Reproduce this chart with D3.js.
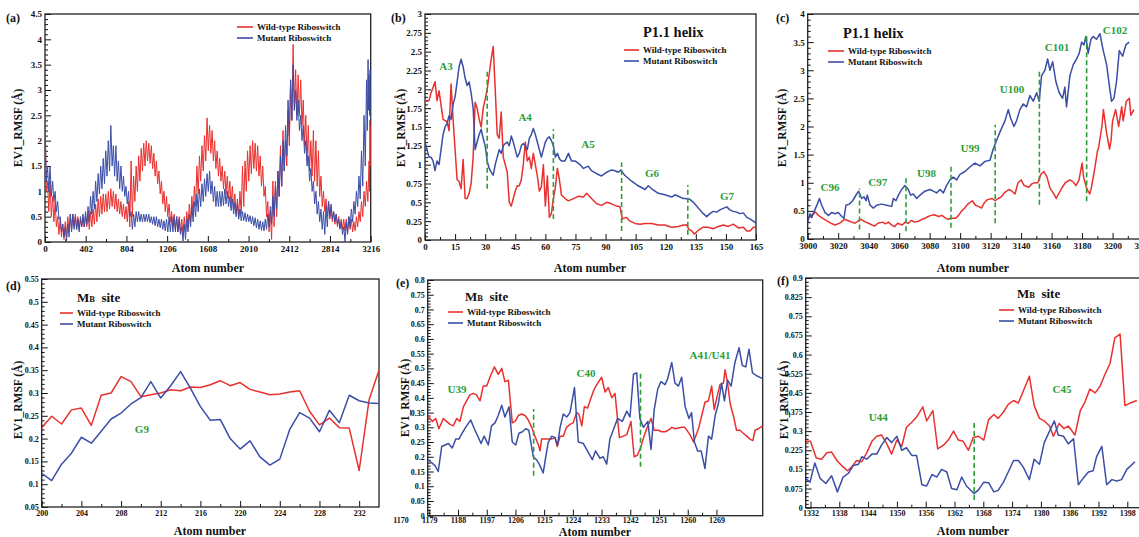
<!DOCTYPE html>
<html><head><meta charset="utf-8">
<script src="https://cdn.jsdelivr.net/npm/d3@7"></script>
<style>
body{margin:0;background:#fff}
svg text{font-family:"Liberation Serif","Times New Roman",serif;font-weight:bold}
</style>
</head><body>
<svg id="chart" width="1139" height="537"></svg>
<script>
// ---------------- DATA ----------------
const seriesNames = ["Wild-type Riboswitch", "Mutant Riboswitch"];

// Panel (a): noisy whole-molecule traces, read as [atom, upper edge, lower edge] of the jittery band
const aXTicks = [0,402,804,1206,1608,2010,2412,2814,3216];
const aYTicks = [0,0.5,1,1.5,2,2.5,3,3.5,4,4.5];
const aWildBand = [[0,2.6,1.0],[25,1.2,0.6],[50,1.2,0.5],[75,0.9,0.4],[100,0.8,0.3],[125,0.5,0.15],[150,0.45,0.1],[175,0.35,0.05],[200,0.4,0.1],[225,0.5,0.2],[250,0.55,0.25],[275,0.55,0.3],[300,0.55,0.25],[325,0.5,0.25],[350,0.45,0.3],[375,0.5,0.3],[400,0.5,0.3],[425,0.55,0.25],[450,0.6,0.3],[475,0.65,0.35],[500,0.75,0.4],[525,0.85,0.5],[550,0.9,0.55],[575,0.95,0.6],[600,0.95,0.6],[625,1.0,0.65],[650,1.05,0.7],[675,1.0,0.65],[700,0.95,0.6],[725,0.85,0.55],[750,0.8,0.5],[775,0.75,0.45],[800,0.7,0.4],[825,0.8,0.3],[850,1.6,0.5],[875,1.3,0.8],[900,1.5,1.0],[925,1.7,1.2],[950,1.85,1.4],[975,1.95,1.5],[1000,2.0,1.6],[1025,1.95,1.55],[1050,1.9,1.45],[1075,1.75,1.3],[1100,1.6,1.15],[1125,1.4,0.95],[1150,1.2,0.75],[1175,1.0,0.6],[1200,0.9,0.5],[1225,0.75,0.4],[1250,0.6,0.3],[1275,0.55,0.25],[1300,0.5,0.2],[1325,0.5,0.2],[1350,0.45,0.15],[1375,0.5,0.2],[1400,0.6,0.3],[1425,0.75,0.4],[1450,0.9,0.55],[1475,1.1,0.7],[1500,1.5,0.95],[1525,1.7,1.2],[1550,1.9,1.4],[1575,2.1,1.6],[1600,2.45,1.8],[1625,2.3,1.75],[1650,2.2,1.6],[1675,2.0,1.45],[1700,1.8,1.3],[1725,1.65,1.2],[1750,1.5,1.05],[1775,1.4,0.95],[1800,1.3,0.85],[1825,1.2,0.75],[1850,1.1,0.65],[1875,0.95,0.55],[1900,0.85,0.5],[1925,1.0,0.55],[1950,1.5,0.7],[1975,1.6,1.0],[2000,1.8,1.2],[2025,1.9,1.35],[2050,2.0,1.45],[2075,1.95,1.4],[2100,1.9,1.3],[2125,1.7,1.1],[2150,1.5,0.9],[2175,1.1,0.5],[2200,0.8,0.2],[2225,0.6,0.05],[2250,1.2,0.3],[2275,1.2,0.5],[2300,1.4,0.9],[2325,1.9,1.1],[2350,2.2,1.4],[2375,2.0,1.5],[2400,2.6,1.9],[2425,3.2,2.4],[2450,3.9,2.6],[2475,3.4,2.5],[2500,3.3,2.5],[2525,3.2,2.3],[2550,2.8,1.9],[2575,2.5,1.6],[2600,2.3,1.4],[2625,2.0,1.3],[2650,2.2,1.2],[2675,2.0,1.1],[2700,1.8,0.9],[2725,1.3,0.7],[2750,1.0,0.6],[2775,0.85,0.5],[2800,0.8,0.45],[2825,0.7,0.4],[2850,0.6,0.35],[2875,0.55,0.3],[2900,0.5,0.28],[2925,0.45,0.25],[2950,0.45,0.22],[2975,0.45,0.2],[3000,0.5,0.25],[3025,0.45,0.2],[3050,0.4,0.22],[3075,0.5,0.3],[3100,0.6,0.4],[3125,0.8,0.5],[3150,1.0,0.7],[3175,1.2,0.8],[3200,1.6,1.0],[3208,2.4,1.5],[3216,2.3,1.5]];
const aMutantBand = [[0,2.3,1.2],[25,1.5,1.0],[50,1.5,0.9],[75,1.2,0.8],[100,1.0,0.6],[125,0.8,0.45],[150,0.5,0.2],[175,0.35,0.1],[200,0.3,0.02],[225,0.35,0.1],[250,0.55,0.2],[275,0.55,0.25],[300,0.5,0.25],[325,0.45,0.2],[350,0.5,0.3],[375,0.55,0.3],[400,0.6,0.35],[425,0.7,0.4],[450,0.9,0.55],[475,1.0,0.65],[500,1.2,0.8],[525,1.35,0.95],[550,1.5,1.05],[575,1.65,1.15],[600,1.8,1.3],[625,2.0,1.4],[650,2.3,1.5],[675,1.9,1.3],[700,1.9,1.2],[725,1.6,1.05],[750,1.5,1.0],[775,1.3,0.9],[800,1.1,0.75],[825,1.0,0.5],[850,0.6,0.25],[875,0.55,0.3],[900,0.6,0.4],[925,0.6,0.4],[950,0.55,0.4],[975,0.55,0.4],[1000,0.55,0.4],[1025,0.55,0.38],[1050,0.5,0.35],[1075,0.5,0.32],[1100,0.5,0.3],[1125,0.45,0.28],[1150,0.45,0.25],[1175,0.42,0.22],[1200,0.45,0.2],[1225,0.5,0.2],[1250,0.5,0.2],[1275,0.5,0.2],[1300,0.5,0.2],[1325,0.45,0.15],[1350,0.3,0.02],[1375,0.35,0.05],[1400,0.45,0.2],[1425,0.55,0.3],[1450,0.7,0.4],[1475,0.8,0.5],[1500,0.95,0.6],[1525,1.05,0.7],[1550,1.15,0.8],[1575,1.25,0.9],[1600,1.35,1.0],[1625,1.4,0.95],[1650,1.2,0.8],[1675,1.1,0.7],[1700,1.0,0.7],[1725,1.0,0.7],[1750,1.0,0.72],[1775,1.05,0.75],[1800,1.0,0.7],[1825,0.9,0.62],[1850,0.85,0.55],[1875,0.78,0.5],[1900,0.75,0.45],[1925,0.65,0.42],[1950,0.6,0.42],[1975,0.58,0.4],[2000,0.55,0.4],[2025,0.52,0.36],[2050,0.5,0.32],[2075,0.48,0.28],[2100,0.45,0.25],[2125,0.42,0.23],[2150,0.4,0.22],[2175,0.45,0.25],[2200,0.55,0.3],[2225,0.7,0.35],[2250,0.9,0.5],[2275,1.1,0.65],[2300,1.4,0.9],[2325,1.7,1.1],[2350,2.0,1.4],[2375,2.3,1.7],[2400,2.8,2.1],[2425,3.2,2.4],[2450,3.5,2.6],[2475,3.0,2.4],[2500,2.8,2.2],[2525,2.5,2.0],[2550,2.3,1.75],[2575,2.0,1.5],[2600,1.7,1.2],[2625,1.45,1.0],[2650,1.2,0.75],[2675,1.0,0.55],[2700,0.8,0.4],[2725,0.65,0.25],[2750,0.6,0.15],[2775,0.7,0.3],[2800,0.8,0.5],[2825,0.75,0.45],[2850,0.6,0.4],[2875,0.55,0.35],[2900,0.45,0.25],[2925,0.4,0.15],[2950,0.3,0.0],[2975,0.4,0.15],[3000,0.5,0.3],[3025,0.65,0.4],[3050,0.8,0.55],[3075,1.0,0.7],[3100,1.3,0.85],[3125,1.8,1.1],[3150,2.5,1.5],[3175,3.2,2.2],[3190,3.6,2.6],[3200,3.3,2.5],[3210,3.4,2.5],[3216,2.4,2.4]];

// Panel (b)
const bXTicks = [0,15,30,45,60,75,90,105,120,135,150,165];
const bYTicks = [0,0.25,0.5,0.75,1,1.25,1.5,1.75,2,2.25,2.5,2.75,3];
const bWild = [[0,1.85],[2,1.85],[3,1.95],[5,2.1],[6,1.85],[7,1.98],[9,1.6],[11,1.57],[12,1.45],[13,2.07],[14,1.6],[16,0.8],[17,0.78],[18,0.68],[19,1.07],[20,0.55],[21,0.55],[22,0.62],[23,0.75],[24,1.1],[25,1.83],[26,1.75],[27,1.6],[28,1.5],[29,1.75],[30,1.87],[31,2.0],[32,2.2],[33,2.4],[34,2.57],[35,2.0],[36,1.4],[37,1.35],[38,1.7],[39,1.1],[40,1.0],[41,0.9],[42,0.5],[43,0.45],[44,0.55],[45,0.65],[46,0.72],[47,0.72],[48,0.8],[49,1.0],[50,1.3],[51,1.05],[52,1.1],[53,0.95],[54,1.15],[55,1.0],[56,0.85],[57,0.65],[58,0.7],[59,1.0],[60,0.45],[61,0.85],[62,0.3],[63,0.35],[64,0.55],[65,0.7],[66,0.95],[67,0.8],[68,0.6],[69.8,0.55],[71.5,0.52],[74,0.55],[76.4,0.58],[79,0.57],[80.6,0.62],[83,0.55],[85.6,0.48],[88,0.46],[90.6,0.5],[93,0.48],[95.5,0.45],[97.2,0.44],[98.4,0.28],[100.5,0.3],[102.2,0.25],[104.7,0.22],[107.2,0.21],[109.7,0.22],[113,0.22],[116.3,0.2],[119.6,0.2],[123,0.17],[126.3,0.18],[128.8,0.2],[130.4,0.2],[131.6,0.14],[133,0.12],[134.3,0.08],[136.3,0.13],[138.7,0.17],[141.2,0.17],[143.7,0.15],[146.2,0.18],[148.7,0.2],[151.2,0.18],[153.7,0.21],[156.2,0.16],[158.7,0.17],[160.4,0.12],[162,0.12],[163.7,0.17],[165,0.17]];
const bMutant = [[0,1.3],[1,1.2],[2,1.1],[3,1.1],[4,1.05],[5,0.92],[6,1.05],[7,1.0],[8,1.2],[9,1.4],[10,1.5],[11,1.55],[12,1.65],[13,1.6],[14,1.8],[15,1.9],[16,2.1],[17,2.3],[18,2.4],[19,2.3],[20,2.15],[21,2.05],[22,2.1],[23,1.95],[24,1.75],[25,1.2],[26,1.3],[27,1.4],[28,1.47],[29,1.35],[30,1.25],[31,1.05],[32,0.95],[33,0.9],[34,0.86],[35,1.0],[36,1.1],[37,1.2],[38,1.15],[39,1.25],[40,1.28],[41,1.3],[42,1.25],[43,1.38],[44,1.3],[45,1.2],[46,1.1],[47,1.15],[48,1.25],[49,1.28],[50,1.25],[51,1.2],[52,1.35],[53,1.4],[54,1.48],[55,1.4],[56,1.3],[57,1.2],[58,1.1],[59,1.2],[60,1.3],[61,1.35],[62,1.37],[63,1.32],[64,1.25],[65,1.1],[66,1.15],[67,1.08],[68,1.05],[69.8,1.05],[71.5,1.15],[73,1.05],[74.8,1.05],[77.3,1.0],[79,0.95],[81.4,0.98],[83,0.92],[85.6,0.88],[88,0.85],[90.6,0.9],[93,0.93],[94.7,0.92],[96.4,0.9],[97.7,0.93],[98.9,0.88],[100,0.85],[103,0.78],[106.3,0.72],[109.7,0.67],[111.3,0.72],[113,0.68],[116.3,0.62],[119.6,0.6],[123,0.57],[124.6,0.6],[126.3,0.58],[128.8,0.55],[129.6,0.55],[132,0.54],[133.8,0.5],[135.4,0.45],[137,0.4],[138.7,0.35],[140.4,0.31],[142,0.35],[143.7,0.38],[145.4,0.37],[147,0.4],[148.7,0.42],[150.4,0.44],[152,0.4],[153.7,0.38],[155.4,0.37],[157,0.35],[158.7,0.36],[160.4,0.3],[162,0.28],[163.7,0.25],[165,0.22]];
const bLabels = [["A3",10.5,2.31],["A4",49.9,1.63],["A5",81.3,1.27],["G6",113.2,0.89],["G7",150.5,0.58]];
const bMarkers = [[31,0.68,2.25],[64,0.28,1.47],[98,0.12,1.03],[131,0.07,0.73]];

// Panel (c)
const cXTicks = [3000,3020,3040,3060,3080,3100,3120,3140,3160,3180,3200,3220];
const cYTicks = [0,0.5,1,1.5,2,2.5,3,3.5,4];
const cWild = [[3000,0.38],[3002,0.42],[3004,0.45],[3005,0.48],[3007,0.42],[3009,0.38],[3011,0.35],[3014,0.3],[3016,0.27],[3018,0.25],[3020,0.27],[3022,0.3],[3024,0.35],[3027,0.32],[3029,0.3],[3031,0.28],[3033,0.32],[3035,0.35],[3038,0.3],[3040,0.28],[3042,0.25],[3044,0.23],[3046,0.28],[3049,0.3],[3051,0.27],[3053,0.3],[3055,0.25],[3057,0.22],[3059,0.28],[3062,0.25],[3064,0.3],[3066,0.28],[3068,0.33],[3070,0.3],[3073,0.32],[3075,0.35],[3077,0.37],[3079,0.4],[3081,0.42],[3083,0.43],[3086,0.4],[3088,0.42],[3090,0.38],[3092,0.35],[3094,0.37],[3097,0.37],[3099,0.42],[3101,0.5],[3103,0.55],[3105,0.62],[3108,0.68],[3110,0.6],[3112,0.58],[3114,0.55],[3116,0.65],[3118,0.7],[3121,0.72],[3123,0.68],[3125,0.72],[3127,0.75],[3129,0.82],[3132,0.88],[3134,0.85],[3136,0.8],[3138,1.0],[3140,1.05],[3142,0.95],[3145,0.92],[3147,0.98],[3149,1.0],[3151,1.0],[3153,1.15],[3155,1.2],[3157,1.1],[3159,0.9],[3162,0.78],[3163,0.72],[3165,0.82],[3167,0.92],[3169,1.0],[3172,1.05],[3174,1.02],[3176,0.95],[3178,1.05],[3180,1.35],[3181,1.1],[3183,0.9],[3185,0.8],[3186,0.9],[3188,1.2],[3190,1.55],[3191,1.65],[3193,2.0],[3194,2.3],[3196,1.9],[3198,1.6],[3199,1.75],[3200,2.1],[3202,2.3],[3204,2.0],[3206,2.35],[3207,2.1],[3209,2.45],[3211,2.5],[3212,2.2],[3214,2.3]];
const cMutant = [[3000,0.3],[3001.5,0.45],[3002.6,0.38],[3004.4,0.5],[3006.3,0.62],[3007.7,0.72],[3009.2,0.6],[3011.4,0.47],[3013.6,0.42],[3015.7,0.47],[3017.9,0.45],[3020.1,0.47],[3022.3,0.4],[3023.8,0.37],[3025.1,0.6],[3027.3,0.62],[3029.5,0.68],[3032.1,0.8],[3033.4,0.85],[3035.4,0.72],[3036.9,0.75],[3038.3,0.68],[3039.1,0.78],[3040.9,0.6],[3043.1,0.55],[3045.2,0.6],[3048.5,0.62],[3051.8,0.6],[3055.1,0.58],[3056.2,0.72],[3057.9,0.68],[3059.5,0.78],[3061.6,0.88],[3063.8,0.95],[3066,0.88],[3067.5,0.78],[3069.3,0.8],[3071.5,0.72],[3073.7,0.78],[3076.9,0.85],[3080.2,0.88],[3082.4,0.85],[3084.6,0.82],[3086.8,0.88],[3089,0.82],[3091.1,0.95],[3093.3,1.05],[3095.5,1.1],[3097.7,1.05],[3099.9,1.15],[3103.2,1.2],[3106.4,1.28],[3109.7,1.35],[3113,1.3],[3116.3,1.38],[3119.6,1.4],[3121.7,1.6],[3123.9,1.75],[3126.1,1.9],[3129.4,2.1],[3131.6,2.3],[3133.1,2.15],[3135.3,2.0],[3137,2.1],[3139.2,2.3],[3141.4,2.4],[3143.6,2.35],[3145.8,2.55],[3148,2.45],[3150.2,2.6],[3151.9,2.45],[3153.4,2.9],[3155.6,3.0],[3157.4,3.2],[3158.9,3.0],[3160.7,3.15],[3162.8,2.8],[3165,2.6],[3167.2,2.5],[3168.7,2.7],[3169.8,2.35],[3172,2.9],[3174.2,3.1],[3176.4,3.2],[3178.1,3.3],[3179.7,3.5],[3181.2,3.45],[3182.5,3.6],[3184,3.3],[3185.8,3.55],[3187.3,3.6],[3189.5,3.55],[3191.7,3.65],[3193.9,3.35],[3196.1,3.1],[3197.8,2.75],[3199.3,2.45],[3200.9,2.5],[3202.6,2.8],[3204.4,3.35],[3206.6,3.25],[3208.7,3.45],[3210.9,3.5]];
const cLabels = [["C96",3014.6,0.92],["C97",3046,1.01],["U98",3078,1.17],["U99",3106.5,1.62],["U100",3134,2.67],["C101",3163.6,3.41],["C102",3201.6,3.72]];
const cMarkers = [[3034,0.17,0.9],[3064.5,0.14,1.08],[3094,0.2,1.29],[3123,0.28,2.03],[3152,0.61,3.0],[3183,0.67,3.66]];

// Panel (d)
const dXTicks = [200,204,208,212,216,220,224,228,232];
const dYTicks = [0.05,0.1,0.15,0.2,0.25,0.3,0.35,0.4,0.45,0.5,0.55];
const dWild = [[200,0.224],[201,0.249],[202,0.232],[203,0.263],[204,0.267],[205,0.229],[206,0.295],[207,0.3],[208,0.336],[209,0.325],[210,0.292],[211,0.296],[212,0.3],[213,0.307],[214,0.305],[215,0.313],[216,0.312],[217,0.318],[218,0.327],[219,0.316],[220,0.323],[221,0.308],[222,0.302],[223,0.296],[224,0.298],[225,0.302],[226,0.305],[227,0.26],[228,0.23],[229,0.245],[230,0.224],[231,0.223],[232,0.13],[233,0.285],[234,0.35]];
const dMutant = [[200,0.124],[201,0.108],[202,0.144],[203,0.168],[204,0.203],[205,0.19],[206,0.216],[207,0.243],[208,0.256],[209,0.276],[210,0.29],[211,0.325],[212,0.289],[213,0.316],[214,0.347],[215,0.31],[216,0.27],[217,0.24],[218,0.242],[219,0.2],[220,0.177],[221,0.195],[222,0.16],[223,0.142],[224,0.155],[225,0.22],[226,0.257],[227,0.245],[228,0.215],[229,0.262],[230,0.235],[231,0.295],[232,0.283],[233,0.278],[234,0.277]];
const dLabels = [["G9",210.1,0.221]];

// Panel (e)
const eXTicks = [1170,1179,1188,1197,1206,1215,1224,1233,1242,1251,1260,1269];
const eYTicks = [0,0.05,0.1,0.15,0.2,0.25,0.3,0.35,0.4,0.45,0.5,0.55,0.6,0.65,0.7,0.75,0.8];
const eWild = [[1178.5,0.34],[1179.2,0.33],[1180,0.32],[1181,0.33],[1182,0.295],[1183.4,0.33],[1184.4,0.32],[1185.5,0.31],[1186.5,0.305],[1187.6,0.33],[1188.6,0.32],[1189.7,0.37],[1190.7,0.39],[1191.7,0.41],[1192.8,0.415],[1193.8,0.41],[1194.9,0.39],[1195.9,0.44],[1197,0.44],[1198,0.47],[1199.4,0.505],[1200.6,0.48],[1201.7,0.5],[1202.7,0.455],[1203.8,0.46],[1205,0.315],[1205.9,0.32],[1206.9,0.34],[1207.9,0.345],[1209,0.34],[1210,0.325],[1211.1,0.3],[1212.1,0.27],[1213.2,0.24],[1213.7,0.22],[1214.2,0.26],[1215.3,0.26],[1216.3,0.26],[1217.3,0.26],[1218.4,0.265],[1219.1,0.235],[1220,0.27],[1221,0.27],[1222,0.3],[1223.1,0.31],[1224.1,0.315],[1225.2,0.35],[1225.9,0.345],[1226.8,0.305],[1227.6,0.37],[1228.6,0.365],[1229.7,0.4],[1230.7,0.43],[1231.8,0.45],[1233,0.47],[1234.1,0.42],[1235.1,0.435],[1236.2,0.4],[1237.2,0.415],[1238.6,0.265],[1239.8,0.27],[1240.9,0.275],[1242.2,0.32],[1243.2,0.2],[1244.2,0.205],[1245.2,0.23],[1246.3,0.27],[1247.3,0.3],[1248.5,0.33],[1249.5,0.29],[1250.8,0.29],[1251.8,0.285],[1252.9,0.285],[1253.9,0.29],[1255,0.3],[1256,0.295],[1257.1,0.298],[1258.1,0.3],[1259.1,0.3],[1260.7,0.275],[1261.8,0.25],[1262.5,0.27],[1263.5,0.3],[1264.4,0.34],[1265.4,0.385],[1266.5,0.39],[1267.5,0.44],[1268.3,0.36],[1269.1,0.4],[1270.1,0.445],[1271.2,0.45],[1271.7,0.495],[1272.5,0.45],[1273.3,0.38],[1274.3,0.34],[1275.3,0.29],[1276.4,0.29],[1277.4,0.28],[1278.5,0.27],[1279.5,0.26],[1280.4,0.255],[1281.1,0.29],[1282.1,0.295],[1283.5,0.305]];
const eMutant = [[1178.5,0.19],[1179.7,0.18],[1180.8,0.17],[1181.8,0.15],[1182.9,0.235],[1183.9,0.24],[1185,0.245],[1186.2,0.23],[1187.3,0.26],[1188.3,0.26],[1189.3,0.28],[1190.4,0.3],[1192,0.325],[1193.1,0.295],[1194.2,0.27],[1195.2,0.245],[1196.2,0.27],[1197.5,0.24],[1198.5,0.305],[1199.6,0.315],[1200.6,0.34],[1201.7,0.375],[1202.7,0.335],[1204,0.37],[1205,0.25],[1206.1,0.24],[1207.1,0.28],[1208.2,0.285],[1209.2,0.295],[1210.2,0.29],[1211.6,0.2],[1212.6,0.19],[1213.7,0.17],[1214.7,0.145],[1215.5,0.2],[1216.3,0.25],[1217.4,0.27],[1218.4,0.265],[1219.2,0.24],[1220,0.3],[1221,0.345],[1222.1,0.335],[1223.1,0.35],[1224.5,0.435],[1225.7,0.25],[1227.3,0.245],[1230.1,0.19],[1231.1,0.22],[1232.5,0.195],[1233.5,0.2],[1234.6,0.175],[1235.6,0.26],[1237,0.3],[1238,0.33],[1239.5,0.32],[1240.9,0.355],[1241.9,0.335],[1243,0.48],[1244,0.485],[1245,0.33],[1246.1,0.3],[1247.5,0.32],[1248.5,0.225],[1249.5,0.36],[1250.6,0.43],[1251.6,0.455],[1252.9,0.445],[1253.7,0.465],[1255,0.52],[1256,0.45],[1257.1,0.44],[1258.1,0.47],[1259.2,0.37],[1260.4,0.33],[1261.2,0.35],[1262.1,0.25],[1263.1,0.22],[1264.2,0.22],[1265.4,0.16],[1266.5,0.27],[1267.5,0.26],[1268.6,0.34],[1269.6,0.38],[1270.6,0.45],[1271.5,0.39],[1272.5,0.46],[1273.6,0.44],[1274.8,0.52],[1276.1,0.57],[1277.1,0.51],[1278.2,0.505],[1279.2,0.565],[1280.3,0.485],[1281.6,0.475],[1283.5,0.465]];
const eLabels = [["U39",1187.7,0.43],["C40",1228.1,0.484],["A41/U41",1267,0.545]];
const eMarkers = [[1211.7,0.136,0.362],[1245.2,0.166,0.49]];

// Panel (f)
const fXTicks = [1332,1338,1344,1350,1356,1362,1368,1374,1380,1386,1392,1398];
const fYTicks = [0,0.075,0.15,0.225,0.3,0.375,0.45,0.525,0.6,0.675,0.75,0.825,0.9];
const fWild = [[1331,0.26],[1332,0.26],[1333.2,0.195],[1334.3,0.19],[1335.4,0.215],[1336.4,0.218],[1337.5,0.185],[1338.5,0.165],[1339.7,0.145],[1340.6,0.16],[1341.6,0.185],[1342.7,0.18],[1343.7,0.215],[1344.8,0.26],[1345.8,0.28],[1346.8,0.285],[1347.9,0.25],[1348.9,0.21],[1350,0.265],[1351,0.24],[1352,0.315],[1353.1,0.335],[1354.1,0.355],[1355.4,0.395],[1356.2,0.34],[1357.5,0.38],[1358.5,0.23],[1359.7,0.245],[1360.7,0.265],[1361.8,0.3],[1362.8,0.265],[1363.8,0.26],[1364.9,0.225],[1365.9,0.275],[1367,0.28],[1368.1,0.265],[1369.1,0.345],[1370.2,0.365],[1371.1,0.35],[1372.2,0.375],[1373.2,0.405],[1374.3,0.42],[1375.3,0.41],[1376.3,0.455],[1377.6,0.515],[1378.6,0.4],[1379.7,0.35],[1380.7,0.34],[1381.8,0.32],[1382.6,0.28],[1383.8,0.33],[1384.8,0.31],[1385.7,0.32],[1387.1,0.285],[1388.2,0.38],[1389.2,0.415],[1390.2,0.465],[1391.3,0.45],[1392.3,0.475],[1393.4,0.525],[1394.4,0.565],[1395.4,0.665],[1396.5,0.68],[1397.5,0.4],[1398.6,0.41],[1400,0.42]];
const fMutant = [[1331,0.115],[1331.9,0.1],[1332.9,0.175],[1334,0.115],[1335.2,0.095],[1336.4,0.125],[1337.6,0.062],[1338.8,0.12],[1339.9,0.135],[1340.9,0.165],[1342,0.17],[1342.7,0.2],[1343.7,0.19],[1344.8,0.21],[1345.8,0.21],[1346.8,0.245],[1347.9,0.275],[1348.9,0.255],[1350,0.28],[1351,0.225],[1352,0.235],[1353.1,0.205],[1354.1,0.205],[1355.2,0.09],[1356.2,0.085],[1357.3,0.13],[1358.3,0.12],[1359.3,0.15],[1360.4,0.14],[1361.4,0.075],[1362.5,0.07],[1363.5,0.12],[1364.5,0.085],[1366.1,0.055],[1367,0.07],[1368.1,0.1],[1369.1,0.098],[1370.2,0.062],[1371.1,0.068],[1372.2,0.1],[1373.2,0.14],[1374.3,0.185],[1375.3,0.185],[1376.3,0.16],[1377.6,0.11],[1378.6,0.19],[1379.7,0.17],[1380.7,0.255],[1381.8,0.3],[1382.8,0.34],[1383.6,0.285],[1384.7,0.28],[1385.7,0.25],[1386.8,0.27],[1387.8,0.09],[1388.8,0.115],[1389.9,0.14],[1390.9,0.145],[1391.6,0.2],[1392.7,0.24],[1393.7,0.09],[1394.8,0.11],[1395.8,0.105],[1396.8,0.11],[1397.9,0.15],[1399.6,0.18]];
const fLabels = [["U44",1346.1,0.355],["C45",1384.4,0.465]];
const fMarkers = [[1366.1,0.03,0.34]];

// jittery trace of panel (a): alternate between the read upper and lower edge of each band step
function bandTrace(band){
  const out=[];
  band.forEach((d,i)=>{
    out.push([d[0],d[1]]);
    if(i<band.length-1) out.push([(d[0]+band[i+1][0])/2, d[2]]);
  });
  return out;
}

// ---------------- LAYOUT / STYLE ----------------
const RED = "#e8302e", BLUE = "#3b4ea6", GREEN = "#2e9e3a";
const svg = d3.select("#chart");
svg.append("rect").attr("width",1139).attr("height",537).attr("fill","#fff");

const panels = [
 {id:"a", tag:"(a)", tagPos:[6,22], l:45, r:370.7, t:14, b:242, xd:[0,3216], yd:[0,4.5], xt:aXTicks, yt:aYTicks, xMinorN:1, yMinorN:4, tf:9, pad:4,
  wild:bandTrace(aWildBand), mut:bandTrace(aMutantBand), sw:1, leg:{x:237,y:27,tx:257,dy:11}, title:null, ylab:[18,128], xlab:[208,272], labels:[], markers:[]},
 {id:"b", tag:"(b)", tagPos:[391,22], l:425, r:756, t:14, b:240, xd:[0,165], yd:[0,3], xt:bXTicks, yt:bYTicks, xMinorN:1, yMinorN:4, tf:9, pad:4,
  wild:bWild, mut:bMutant, sw:1.5, leg:{x:624,y:50,tx:643,dy:11}, title:{text:"P1.1 helix",x:643,y:37}, ylab:[401,128], xlab:[590,272], labels:bLabels, markers:bMarkers},
 {id:"c", tag:"(c)", tagPos:[776,22], l:807.7, r:1140, t:14, b:239, xd:[3000,3218], yd:[0,4], xt:cXTicks, yt:cYTicks, xMinorN:1, yMinorN:4, tf:9, pad:4,
  wild:cWild, mut:cMutant, sw:1.5, leg:{x:828,y:51,tx:848,dy:11}, title:{text:"P1.1 helix",x:843,y:38}, ylab:[782,128], xlab:[973,272], labels:cLabels, markers:cMarkers},
 {id:"d", tag:"(d)", tagPos:[6,290], l:41.7, r:379, t:279, b:507, xd:[200,234], yd:[0.05,0.55], xt:dXTicks, yt:dYTicks, xMinorN:1, yMinorN:4, tf:8, pad:3,
  wild:dWild, mut:dMutant, sw:1.5, leg:{x:60,y:313,tx:77,dy:11}, title:{mb:true,x:77,y:302}, ylab:[18,400], xlab:[210,535], labels:dLabels, markers:[]},
 {id:"e", tag:"(e)", tagPos:[396,287], l:427.7, r:762.7, t:280, b:515.7, xd:[1178.5,1283.5], yd:[0,0.8], xt:eXTicks, yt:eYTicks, xMinorN:1, yMinorN:4, tf:8, pad:1.5,
  wild:eWild, mut:eMutant, sw:1.5, leg:{x:448,y:312,tx:467,dy:11}, title:{mb:true,x:465,y:301}, ylab:[405,398], xlab:[595,535.5], labels:eLabels, markers:eMarkers},
 {id:"f", tag:"(f)", tagPos:[777,285], l:805.7, r:1141.7, t:278, b:507.7, xd:[1331,1401], yd:[0,0.9], xt:fXTicks, yt:fYTicks, xMinorN:1, yMinorN:4, tf:8, pad:3,
  wild:fWild, mut:fMutant, sw:1.5, leg:{x:999,y:310,tx:1018,dy:11}, title:{mb:true,x:1017,y:298}, ylab:[784,400], xlab:[973,535], labels:fLabels, markers:fMarkers}
];

const fmt = d => String(+(+d).toFixed(3));

function minorTicks(ticks, n){
  const out=[];
  for(let i=0;i<ticks.length-1;i++){
    const a=ticks[i], b=ticks[i+1];
    for(let k=1;k<=n;k++) out.push(a+(b-a)*k/(n+1));
  }
  return out;
}

panels.forEach(p=>{
  const g = svg.append("g").attr("id","panel-"+p.id);
  const x = d3.scaleLinear().domain(p.xd).range([p.l,p.r]);
  const y = d3.scaleLinear().domain(p.yd).range([p.b,p.t]);

  const clipId = "clip-"+p.id;
  g.append("clipPath").attr("id",clipId).append("rect")
    .attr("x",p.l).attr("y",p.t).attr("width",p.r-p.l).attr("height",p.b-p.t);

  // minor ticks
  const xm = g.append("g").attr("transform",`translate(0,${p.b})`)
    .call(d3.axisBottom(x).tickValues(minorTicks(p.xt.filter(v=>v>=p.xd[0]),p.xMinorN)).tickSize(-3).tickFormat(""));
  xm.select(".domain").remove();
  const ym = g.append("g").attr("transform",`translate(${p.l},0)`)
    .call(d3.axisLeft(y).tickValues(minorTicks(p.yt,p.yMinorN)).tickSize(-3).tickFormat(""));
  ym.select(".domain").remove();

  // major axes
  const xa = g.append("g").attr("transform",`translate(0,${p.b})`)
    .call(d3.axisBottom(x).tickValues(p.xt).tickSize(-6).tickSizeOuter(0).tickPadding(p.pad).tickFormat(fmt));
  xa.select(".domain").remove();
  xa.selectAll(".tick").filter(d=>d<p.xd[0]).select("line").remove();
  xa.selectAll("text").attr("font-size",p.tf).attr("fill","#111").attr("font-family",null);
  const ya = g.append("g").attr("transform",`translate(${p.l},0)`)
    .call(d3.axisLeft(y).tickValues(p.yt).tickSize(-6).tickSizeOuter(0).tickPadding(3).tickFormat(fmt));
  ya.select(".domain").remove();
  ya.selectAll("text").attr("font-size",p.tf).attr("fill","#111").attr("font-family",null);
  g.selectAll(".tick line").attr("stroke","#111");

  // frame
  g.append("rect").attr("x",p.l).attr("y",p.t).attr("width",p.r-p.l).attr("height",p.b-p.t)
    .attr("fill","none").attr("stroke","#222").attr("stroke-width",1.3);

  const line = d3.line().x(d=>x(d[0])).y(d=>y(d[1]));
  const plot = g.append("g").attr("clip-path",`url(#${clipId})`);
  plot.append("path").datum(p.wild).attr("d",line).attr("fill","none").attr("stroke",RED).attr("stroke-width",p.sw).attr("stroke-linejoin","round");
  plot.append("path").datum(p.mut).attr("d",line).attr("fill","none").attr("stroke",BLUE).attr("stroke-width",p.sw).attr("stroke-linejoin","round");

  // dashed residue markers
  plot.selectAll("line.marker").data(p.markers).join("line").attr("class","marker")
    .attr("x1",d=>x(d[0])).attr("x2",d=>x(d[0])).attr("y1",d=>y(d[1])).attr("y2",d=>y(d[2]))
    .attr("stroke",GREEN).attr("stroke-width",1.6).attr("stroke-dasharray","5,3");

  // residue labels
  g.selectAll("text.res").data(p.labels).join("text").attr("class","res")
    .attr("x",d=>x(d[1])).attr("y",d=>y(d[2])).attr("dy","0.35em").attr("text-anchor","middle")
    .attr("font-size",11).attr("fill",GREEN).text(d=>d[0]);

  // legend
  [RED,BLUE].forEach((c,i)=>{
    const ly = p.leg.y + i*p.leg.dy;
    g.append("line").attr("x1",p.leg.x).attr("x2",p.leg.tx-4).attr("y1",ly).attr("y2",ly).attr("stroke",c).attr("stroke-width",1.6);
    g.append("text").attr("x",p.leg.tx).attr("y",ly).attr("dy","0.35em").attr("font-size",9).attr("fill","#111").text(seriesNames[i]);
  });

  // titles
  if(p.title){
    if(p.title.mb){
      const t = g.append("text").attr("x",p.title.x).attr("y",p.title.y).attr("font-size",13).attr("fill","#111");
      t.append("tspan").text("M");
      t.append("tspan").attr("font-size",8.5).text("B");
      t.append("tspan").text("\u00a0 site");
    } else {
      g.append("text").attr("x",p.title.x).attr("y",p.title.y).attr("font-size",14.5).attr("fill","#111").text(p.title.text);
    }
  }

  // panel tag
  g.append("text").attr("x",p.tagPos[0]).attr("y",p.tagPos[1]).attr("font-size",12).attr("fill","#111").text(p.tag);

  // axis titles
  g.append("text").attr("transform",`translate(${p.ylab[0]},${p.ylab[1]}) rotate(-90)`).attr("text-anchor","middle")
    .attr("dy","0.35em").attr("font-size",11.5).attr("fill","#111").text("EV1_RMSF (\u00c5)");
  g.append("text").attr("x",p.xlab[0]).attr("y",p.xlab[1]).attr("text-anchor","middle")
    .attr("font-size",12).attr("fill","#111").text("Atom number");
});
</script>
</body></html>
